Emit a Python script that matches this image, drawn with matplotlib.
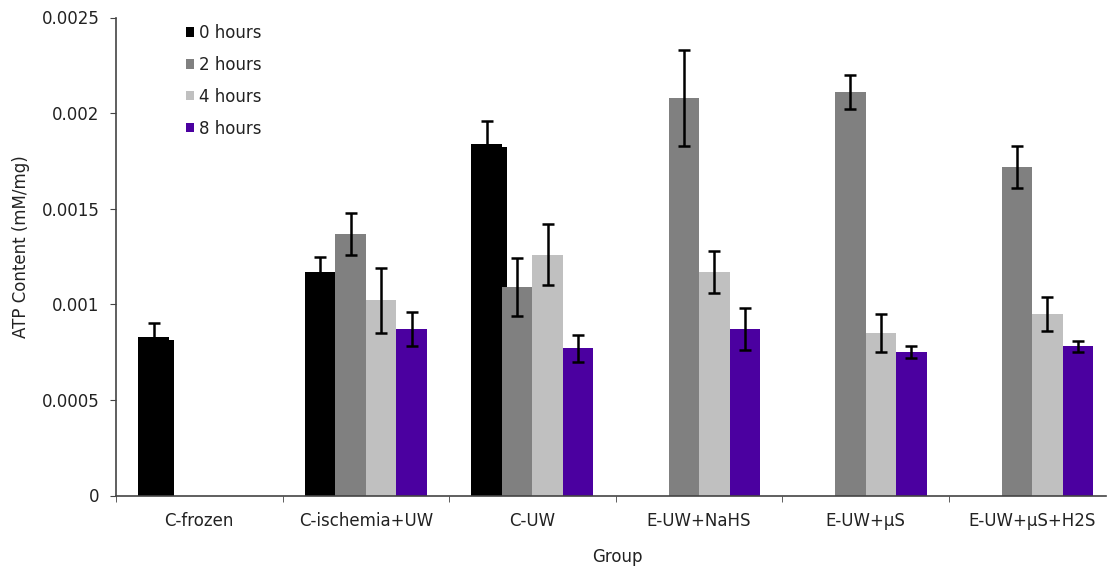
import numpy as np
import matplotlib
matplotlib.use("Agg")
import matplotlib.pyplot as plt
import matplotlib.patheffects as pe
from matplotlib.patches import Patch

plt.rcParams["font.family"] = ["DejaVu Sans"]

groups = ["C-frozen", "C-ischemia+UW", "C-UW", "E-UW+NaHS", "E-UW+\u00b5S", "E-UW+\u00b5S+H2S"]
series = ["0 hours", "2 hours", "4 hours", "8 hours"]
nan = np.nan
h0 = [0.00083, 0.00117, 0.00184, nan, nan, nan]
h2 = [nan, 0.00137, 0.00109, 0.00208, 0.00211, 0.00172]
h4 = [nan, 0.00102, 0.00126, 0.00117, 0.00085, 0.00095]
h8 = [nan, 0.00087, 0.00077, 0.00087, 0.00075, 0.00078]
e0 = [0.00007, 0.00008, 0.00012, nan, nan, nan]
e2 = [nan, 0.00011, 0.00015, 0.00025, 0.00009, 0.00011]
e4 = [nan, 0.00017, 0.00016, 0.00011, 0.00010, 0.00009]
e8 = [nan, 0.00009, 0.00007, 0.00011, 0.00003, 0.00003]
colors = ["#000000", "#808080", "#C0C0C0", "#4B00A0"]

FS = 12
TXT = "#222222"
fig = plt.figure(figsize=(11.07, 5.67), dpi=100)
ax = fig.add_axes([116/1107, 1-495.5/567, (1106-116)/1107, (495.5-17.5)/567])

x = np.arange(len(groups))
w = 0.183
vals = [h0, h2, h4, h8]
errs = [e0, e2, e4, e8]
for i, (v, e, c) in enumerate(zip(vals, errs, colors)):
    pos = x + (i - 1.5) * w
    bars = ax.bar(pos, v, width=w, color=c, zorder=2)
    if i == 0:
        for b in bars:
            b.set_path_effects([pe.SimplePatchShadow(offset=(3.5, -2.5), shadow_rgbFace="black", alpha=1), pe.Normal()])
    ax.errorbar(pos, v, yerr=e, fmt="none", ecolor="black", elinewidth=1.8, capsize=4.5, capthick=1.8, zorder=4)

ax.set_yticks([0, 0.0005, 0.001, 0.0015, 0.002, 0.0025])
ax.set_yticklabels(["0", "0.0005", "0.001", "0.0015", "0.002", "0.0025"])
ax.set_xticks(x)
ax.set_xticklabels(groups)
ax.set_xticks(np.arange(-0.5, 6, 1), minor=True)
ax.set_xlim(-0.5, 5.443)
ax.set_ylim(0, 0.0025)
ax.tick_params(axis="x", which="major", length=0, pad=12, labelsize=FS, colors=TXT)
ax.tick_params(axis="x", which="minor", length=4.3, direction="out", color="#444444")
ax.tick_params(axis="y", length=4.3, direction="out", labelsize=FS, colors=TXT, color="#444444", pad=7.5)
for s in ["top", "right"]:
    ax.spines[s].set_visible(False)
for s in ["left", "bottom"]:
    ax.spines[s].set_color("#444444")
    ax.spines[s].set_linewidth(1.2)

ax.set_xlabel("Group", fontsize=FS, color=TXT)
ax.xaxis.set_label_coords((617-116)/990, -(548-495.5)/478, transform=ax.transAxes)
ax.set_ylabel("ATP Content (mM/mg)", fontsize=FS, color=TXT)
ax.yaxis.set_label_coords(-(116-30)/990, 0.52, transform=ax.transAxes)

handles = [Patch(facecolor=c, edgecolor="none") for c in colors]
fig.legend(handles, series, loc="upper left", bbox_to_anchor=(186/1107, 1-24/567), frameon=False,
           borderpad=0, borderaxespad=0, handlelength=0.5, handleheight=0.5, handletextpad=0.3,
           labelspacing=0.83, fontsize=FS, labelcolor=TXT)

fig.savefig("out.png", dpi=100)
